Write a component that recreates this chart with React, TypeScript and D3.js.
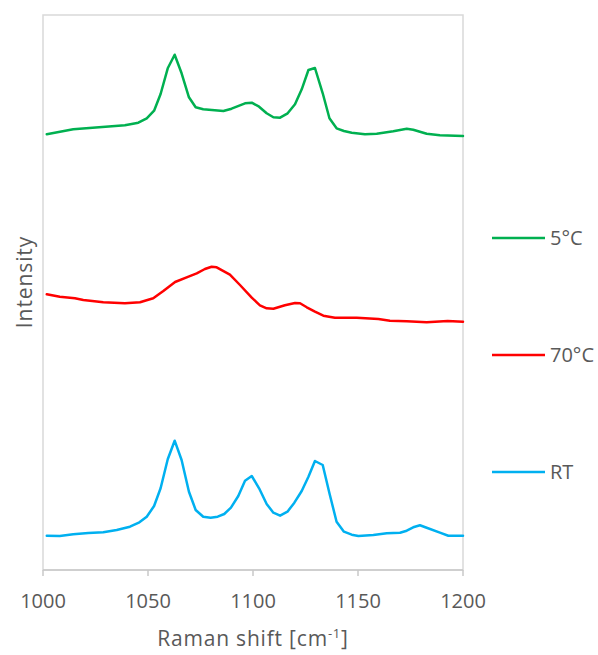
import React from "react";
import * as d3 from "d3";

const greenX = [1001.8, 1014.4, 1039, 1045.4, 1049.4, 1052.9, 1056, 1059.4, 1062.7, 1066, 1069.5, 1072.7, 1076.3, 1085.9, 1089.8, 1096.2, 1099.4, 1102.9, 1106.5, 1109.7, 1112.9, 1116.5, 1120, 1123.2, 1126.4, 1129.5, 1133.2, 1136.4, 1139.8, 1143.3, 1147, 1153.3, 1158.9, 1166.8, 1173.2, 1176.3, 1182.7, 1189, 1200];
const greenY = [435.7, 440.7, 444.7, 447.3, 451.7, 459.3, 476, 501.7, 515.3, 496.7, 472.7, 462.7, 460.7, 459, 461.3, 466.7, 467.3, 463.3, 456.7, 452.7, 452.3, 456.7, 465.7, 480.7, 500, 502, 476.7, 451.7, 441.7, 439, 437.3, 435.7, 436.3, 438.7, 441.3, 440.3, 436.3, 434.7, 434];

const redX = [1001.8, 1008, 1015.2, 1019.2, 1022.4, 1028.7, 1039, 1046.2, 1052.5, 1057.3, 1062.9, 1068.4, 1073.2, 1077.1, 1080.3, 1082.7, 1089, 1093.8, 1099.4, 1103.3, 1106.5, 1109.7, 1115.2, 1120, 1122.4, 1125.6, 1129.5, 1133.5, 1139, 1149.4, 1159.7, 1165.2, 1173.2, 1182.7, 1192.7, 1200];
const redY = [275.7, 273.3, 271.7, 270, 269.3, 267.7, 266.7, 267.7, 271.7, 279, 288, 292.7, 296.7, 301, 303.3, 302.7, 295.3, 285, 272.3, 264.7, 261.7, 261.3, 264.7, 267, 266.7, 262.7, 258.3, 254.3, 252.3, 252.3, 251, 249.3, 248.7, 247.7, 249, 248.3];

const blueX = [1001.8, 1008, 1014.4, 1021.6, 1028.7, 1035.1, 1041.4, 1045.9, 1049.4, 1052.9, 1056, 1059.4, 1062.7, 1066, 1069.5, 1072.7, 1076.3, 1079.8, 1083.2, 1086.3, 1089.5, 1093, 1096.2, 1099.4, 1102.9, 1106.5, 1109.7, 1112.9, 1116.4, 1119.7, 1123.2, 1126.4, 1129.5, 1133.2, 1136.4, 1139.8, 1143.3, 1147, 1150.2, 1157.3, 1163.7, 1170, 1173.2, 1176.3, 1179.5, 1182.7, 1189, 1193, 1200];
const blueY = [34.3, 34, 35.7, 37, 37.7, 40, 43.3, 47.7, 53.3, 64, 81.7, 110.7, 129.3, 110, 78.3, 60, 53.3, 52.3, 53.3, 56, 62.3, 74, 89.3, 94, 81.7, 66, 57.3, 54.3, 58.3, 67.3, 79, 93.3, 109, 105, 76.7, 48.3, 38.3, 35.3, 34, 35, 36.7, 37.3, 39.3, 42.7, 44.7, 42.3, 37.3, 34.3, 34.3];

const seriesNames = ["5°C", "70°C", "RT"];
const seriesColors = ["#00B050", "#FF0000", "#00B0F0"];
const xTicks = [1000, 1050, 1100, 1150, 1200];

const FONT = "'Open Sans', sans-serif";
const TEXT = "#595959";

export default function App() {
  const W = 598, H = 655;
  const left = 43, right = 463, top = 15, bottom = 570;
  const x = d3.scaleLinear().domain([1000, 1200]).range([left, right]);
  const y = d3.scaleLinear().domain([0, 555]).range([bottom, top]);

  const series = [
    { name: seriesNames[0], color: seriesColors[0], xs: greenX, ys: greenY },
    { name: seriesNames[1], color: seriesColors[1], xs: redX, ys: redY },
    { name: seriesNames[2], color: seriesColors[2], xs: blueX, ys: blueY },
  ];
  const line = d3
    .line<[number, number]>()
    .x((d) => x(d[0]))
    .y((d) => y(d[1]));

  const legendY = [238, 355, 472];

  return (
    <svg
      width={W}
      height={H}
      style={{ position: "absolute", left: 0, top: 0, background: "#fff" }}
      fontFamily={FONT}
    >
      <rect x={0} y={0} width={W} height={H} fill="#fff" />
      <rect x={left} y={top} width={right - left} height={bottom - top} fill="none" stroke="#D9D9D9" strokeWidth={1.5} />
      <line x1={left} x2={right} y1={bottom} y2={bottom} stroke="#C8C8C8" strokeWidth={1.5} />
      {xTicks.map((t) => (
        <g key={t}>
          <line x1={x(t)} x2={x(t)} y1={bottom} y2={bottom + 6} stroke="#C8C8C8" strokeWidth={1.5} />
          <text x={x(t)} y={608} textAnchor="middle" fontSize={20} fill={TEXT}>
            {t}
          </text>
        </g>
      ))}
      {series.map((s) => (
        <path
          key={s.name}
          d={line(s.xs.map((v, i) => [v, s.ys[i]] as [number, number])) || ""}
          fill="none"
          stroke={s.color}
          strokeWidth={2.5}
          strokeLinejoin="round"
          strokeLinecap="round"
        />
      ))}
      <text x={253} y={645.5} textAnchor="middle" fontSize={21} letterSpacing={0.8} fill={TEXT}>
        Raman shift [cm
        <tspan dy={-8} fontSize={13}>-1</tspan>
        <tspan dy={8}>]</tspan>
      </text>
      <text
        transform={`translate(31.5, 282) rotate(-90)`}
        textAnchor="middle"
        fontSize={21}
        letterSpacing={0.9}
        fill={TEXT}
      >
        Intensity
      </text>
      {series.map((s, i) => (
        <g key={s.name}>
          <line x1={492} x2={545} y1={legendY[i]} y2={legendY[i]} stroke={s.color} strokeWidth={2.5} />
          <text x={550} y={legendY[i] + 7} fontSize={20} fill={TEXT}>
            {s.name}
          </text>
        </g>
      ))}
    </svg>
  );
}
